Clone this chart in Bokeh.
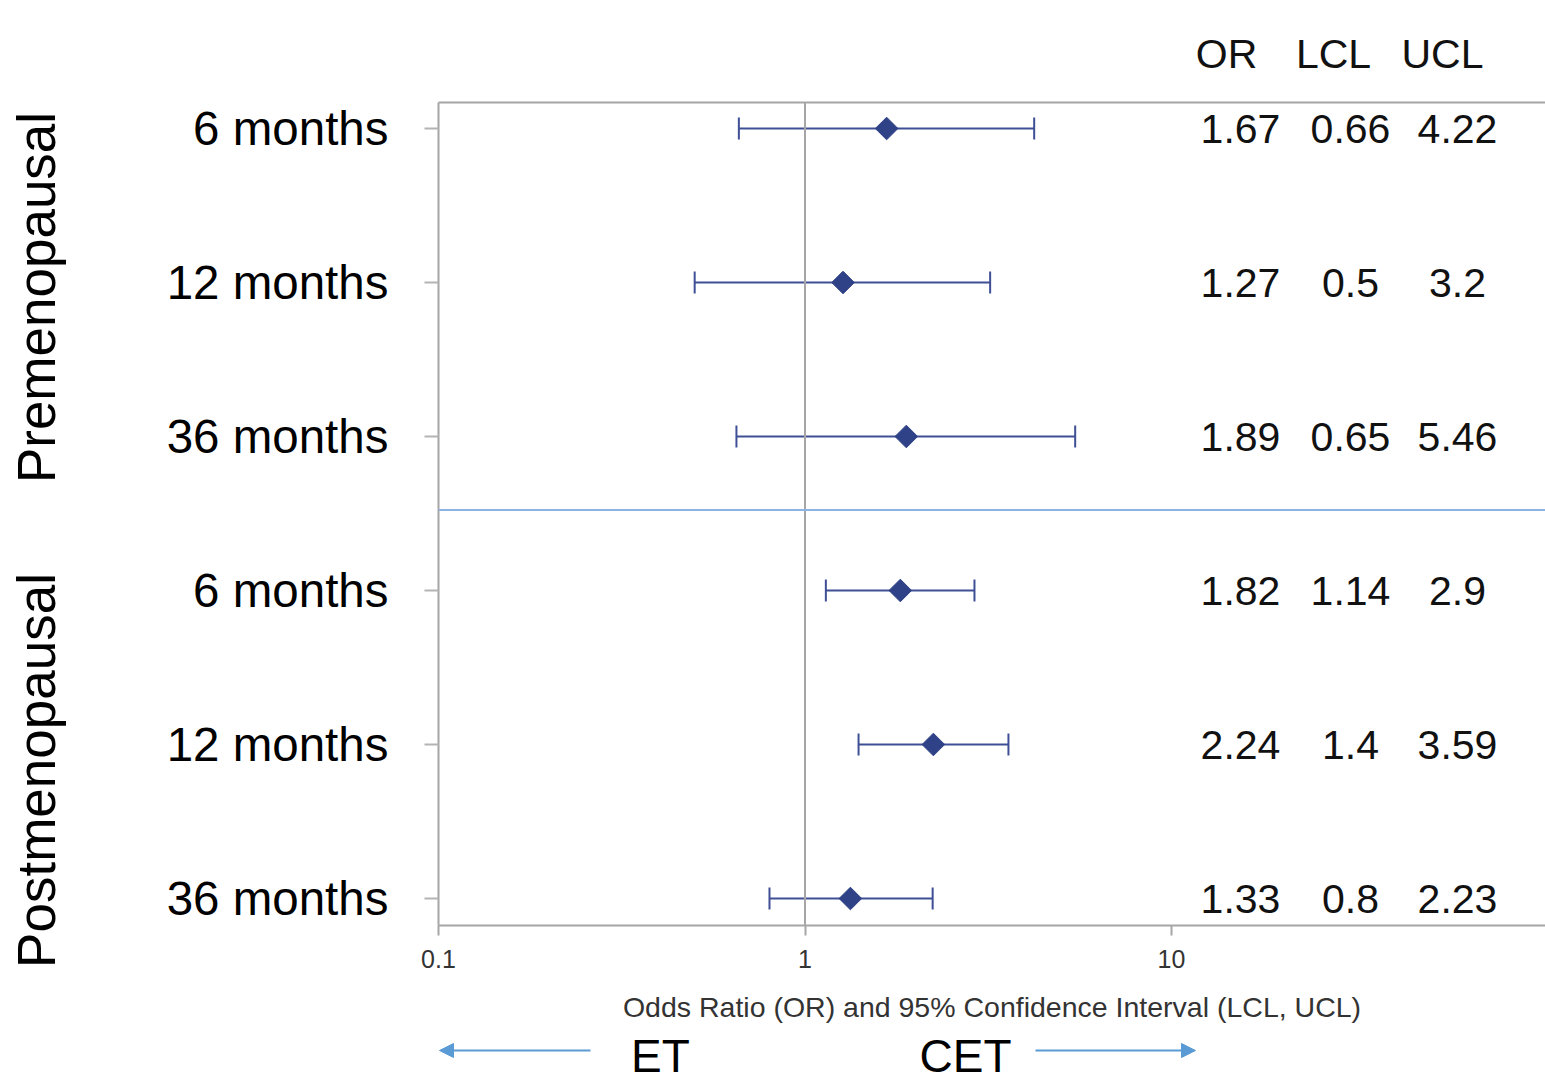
from math import pi

from bokeh.plotting import figure
from bokeh.layouts import column
from bokeh.models import (ColumnDataSource, Range1d, FixedTicker, LogAxis, LinearAxis,
                          Span, Whisker, TeeHead, Arrow, NormalHead, LinearScale,
                          CustomJSTickFormatter)
from bokeh.embed import file_html
from bokeh.resources import INLINE
from bokeh.core.properties import value

# ---------------- data ----------------
groups = ["Premenopausal", "Postmenopausal"]
periods = ["6 months", "12 months", "36 months", "6 months", "12 months", "36 months"]
odds_ratio = [1.67, 1.27, 1.89, 1.82, 2.24, 1.33]
lcl = [0.66, 0.5, 0.65, 1.14, 1.4, 0.8]
ucl = [4.22, 3.2, 5.46, 2.9, 3.59, 2.23]
x_ticks = [0.1, 1, 10]
col_headers = ["OR", "LCL", "UCL"]
direction_labels = ["ET", "CET"]
x_axis_title = "Odds Ratio (OR) and 95% Confidence Interval (LCL, UCL)"

# ---------------- layout ----------------
FONT = "Liberation Sans"
W = 1545
TOP_H = 96            # header strip
MAIN_BT, MAIN_BB = 6, 105
BORDER_L = 438
FRAME_W = W - BORDER_L
FRAME_H = 823
MAIN_H = MAIN_BT + FRAME_H + MAIN_BB
BOT_H = 1074 - TOP_H - MAIN_H
ROW_PX = 154.0
TOP_PAD = 26 / ROW_PX
BOT_PAD = 27 / ROW_PX
DEC_PX = 366.5
X_MIN = x_ticks[0]
X_MAX = X_MIN * 10 ** (FRAME_W / DEC_PX)

n = len(periods)
rows = list(range(n))


def x_at(px):
    """data x for a pixel offset from the main frame's left edge"""
    return X_MIN * 10 ** (px / DEC_PX)


def y_at(px):
    """data y for a pixel offset from the main frame's top edge"""
    return -TOP_PAD + px / ROW_PX


src = ColumnDataSource(dict(
    y=rows,
    odds=odds_ratio,
    lcl=lcl,
    ucl=ucl,
    or_txt=[f"{v:g}" for v in odds_ratio],
    lcl_txt=[f"{v:g}" for v in lcl],
    ucl_txt=[f"{v:g}" for v in ucl],
))


def bare(fig):
    fig.outline_line_color = None
    fig.background_fill_color = "white"
    fig.border_fill_color = "white"
    fig.xgrid.visible = False
    fig.ygrid.visible = False
    return fig


# ---------------- header strip ----------------
top = bare(figure(width=W, height=TOP_H, x_range=Range1d(0, FRAME_W),
                  y_range=Range1d(0, TOP_H), x_axis_location=None, y_axis_location=None,
                  output_backend="svg", toolbar_location=None,
                  min_border_left=BORDER_L, min_border_right=0,
                  min_border_top=0, min_border_bottom=0))
head_src = ColumnDataSource(dict(x=[788, 895, 1004], text=col_headers))
top.text(x="x", y=TOP_H - 53, text="text", source=head_src,
         text_font=value(FONT), text_font_size="41px", text_color="#111111",
         text_align="center", text_baseline="middle")

# ---------------- main plot ----------------
p = bare(figure(width=W, height=MAIN_H, x_axis_type="log",
                x_range=Range1d(X_MIN, X_MAX),
                y_range=Range1d(start=(n - 1) + BOT_PAD, end=-TOP_PAD),
                output_backend="svg", toolbar_location=None,
                min_border_left=BORDER_L, min_border_top=MAIN_BT,
                min_border_bottom=MAIN_BB, min_border_right=0))
p.extra_x_ranges = {"cols": Range1d(0, FRAME_W)}
p.extra_x_scales = {"cols": LinearScale()}

AXIS_GRAY = "#a6a6a6"

xa = p.xaxis[0]
xa.ticker = FixedTicker(ticks=x_ticks)
xa.formatter = CustomJSTickFormatter(code="return tick.toString();")
xa.axis_line_color = AXIS_GRAY
xa.axis_line_width = 2
xa.major_tick_line_color = AXIS_GRAY
xa.major_tick_line_width = 2
xa.major_tick_in = 0
xa.major_tick_out = 10
xa.minor_tick_line_color = None
xa.major_label_text_font = FONT
xa.major_label_text_font_size = "25px"
xa.major_label_text_color = "#333333"
xa.major_label_standoff = 14
xa.axis_label = x_axis_title
xa.axis_label_text_font = FONT
xa.axis_label_text_font_size = "28.5px"
xa.axis_label_text_font_style = "normal"
xa.axis_label_text_color = "#333333"
xa.axis_label_standoff = 20

ya = p.yaxis[0]
ya.ticker = FixedTicker(ticks=rows)
ya.major_label_overrides = {i: periods[i] for i in rows}
ya.axis_line_color = AXIS_GRAY
ya.axis_line_width = 2
ya.major_tick_line_color = "#b4b4b4"
ya.major_tick_line_width = 2
ya.major_tick_in = 0
ya.major_tick_out = 14
ya.minor_tick_line_color = None
ya.major_label_text_font = FONT
ya.major_label_text_font_size = "47.5px"
ya.major_label_text_color = "black"
ya.major_label_standoff = 36

# group labels as an outer left axis
group_axis = LinearAxis(ticker=FixedTicker(ticks=[y_at(195), y_at(668)]),
                        major_label_overrides={y_at(195): groups[0], y_at(668): groups[1]},
                        major_label_orientation="vertical",
                        axis_line_color=None, major_tick_line_color=None,
                        minor_tick_line_color=None, major_tick_out=0, major_tick_in=0,
                        major_label_standoff=98,
                        major_label_text_font=FONT, major_label_text_font_size="53px",
                        major_label_text_color="black")
p.add_layout(group_axis, "left")

# top frame line
frame_top = LogAxis(ticker=FixedTicker(ticks=[]), axis_line_color=AXIS_GRAY,
                    axis_line_width=2, major_tick_out=0, major_tick_in=0,
                    minor_tick_out=0, minor_tick_in=0, major_label_standoff=0,
                    major_label_text_font_size="0px")
p.add_layout(frame_top, "above")

p.add_layout(Span(location=1, dimension="height", line_color=AXIS_GRAY, line_width=2))
p.add_layout(Span(location=y_at(407.5), dimension="width", line_color="#8db3e2", line_width=2))

NAVY = "#3e4f95"
p.add_layout(Whisker(source=src, base="y", lower="lcl", upper="ucl", dimension="width",
                     line_color=NAVY, line_width=2,
                     lower_head=TeeHead(size=22, line_color=NAVY, line_width=2),
                     upper_head=TeeHead(size=22, line_color=NAVY, line_width=2)))

p.scatter(x="odds", y="y", source=src, marker="square", angle=pi / 4, size=16,
          fill_color="#2f4187", line_color="#2f4187")

for cx, field in zip([802, 912, 1019], ["or_txt", "lcl_txt", "ucl_txt"]):
    p.text(x=cx, y="y", text=field, source=src, x_range_name="cols",
           text_font=value(FONT), text_font_size="41px", text_color="#111111",
           text_align="center", text_baseline="middle")

# ---------------- bottom strip: direction arrows ----------------
bot = bare(figure(width=W, height=BOT_H, x_axis_type="log",
                  x_range=Range1d(X_MIN, X_MAX),
                  y_range=Range1d(start=BOT_H, end=0),
                  x_axis_location=None, y_axis_location=None,
                  output_backend="svg", toolbar_location=None,
                  min_border_left=BORDER_L, min_border_right=0,
                  min_border_top=0, min_border_bottom=0))
bot_top = 1074 - BOT_H
ARROW_C = "#5b9bd5"
ay = 1050 - bot_top
bot.add_layout(Arrow(x_start=x_at(152), y_start=ay, x_end=x_at(1), y_end=ay,
                     line_color=ARROW_C, line_width=2,
                     end=NormalHead(size=14, fill_color=ARROW_C, line_color=ARROW_C)))
bot.add_layout(Arrow(x_start=x_at(597), y_start=ay, x_end=x_at(757), y_end=ay,
                     line_color=ARROW_C, line_width=2,
                     end=NormalHead(size=14, fill_color=ARROW_C, line_color=ARROW_C)))
dir_src = ColumnDataSource(dict(x=[x_at(222), x_at(527)], text=direction_labels))
bot.text(x="x", y=1055 - bot_top, text="text", source=dir_src,
         text_font=value(FONT), text_font_size="46px", text_color="black",
         text_align="center", text_baseline="middle")

layout = column(top, p, bot, spacing=0)
open("out.html", "w").write(file_html(layout, INLINE))
